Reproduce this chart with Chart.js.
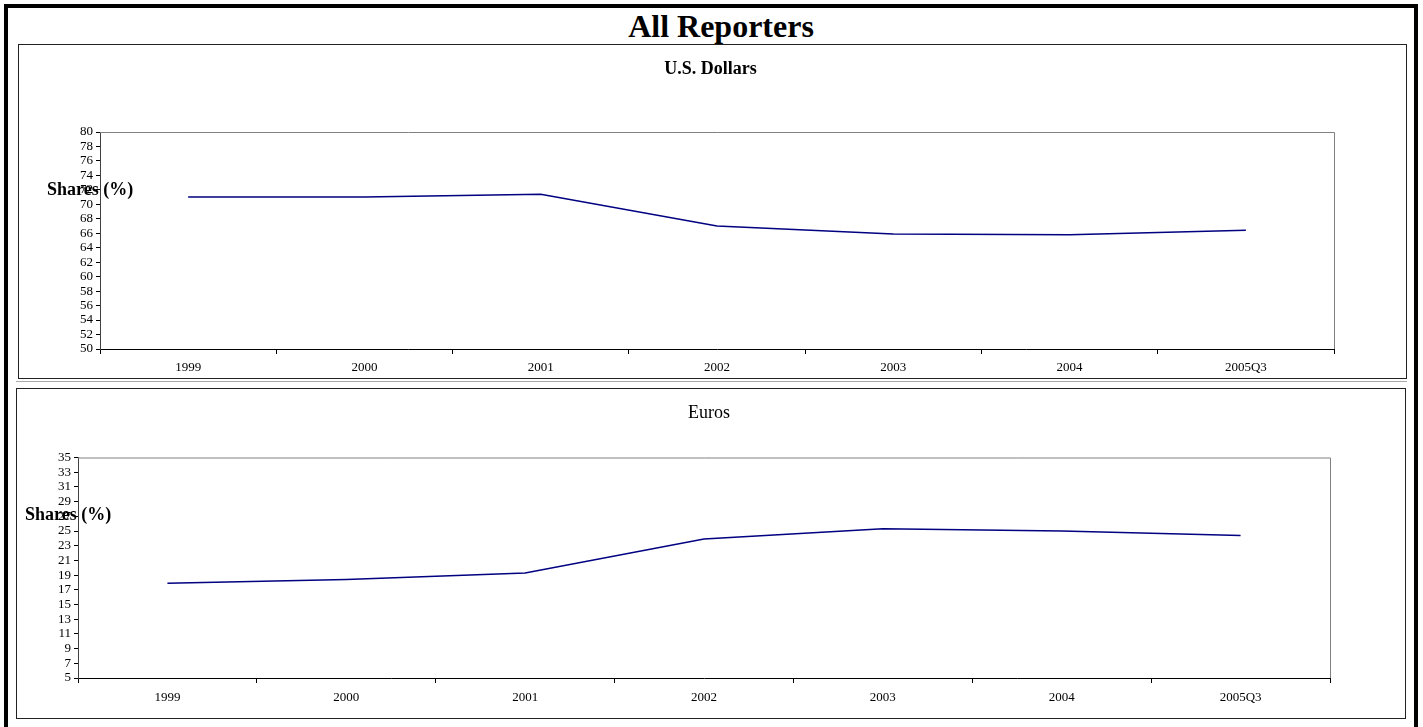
<!DOCTYPE html>
<html>
<head>
<meta charset="utf-8">
<title>All Reporters</title>
<script src="https://cdn.jsdelivr.net/npm/chart.js@4.4.0/dist/chart.umd.min.js"></script>
<style>
body { margin: 0; background: #fff; font-family: "Liberation Serif", "Times New Roman", serif; }
#frame { position: absolute; left: 4px; top: 4px; width: 1414px; height: 760px; border: 4px solid #000; border-bottom: none; box-sizing: border-box; }
#mainTitle { position: absolute; left: 0; top: 10px; width: 1442px; text-align: center; font-weight: bold; font-size: 32px; line-height: 32px; }
.panel { position: absolute; border: 1px solid #222; background: #fff; }
#panelUsd { left: 18px; top: 44px; width: 1387px; height: 333px; }
#panelEur { left: 16px; top: 388px; width: 1388px; height: 329px; }
#sep { position: absolute; left: 16px; top: 381px; width: 1391px; height: 1px; background: #aaa; }
canvas { display: block; }
</style>
</head>
<body>
<div id="frame"></div>
<div id="mainTitle">All Reporters</div>
<div class="panel" id="panelUsd"><canvas id="usdChart" width="1387" height="333"></canvas></div>
<div id="sep"></div>
<div class="panel" id="panelEur"><canvas id="eurChart" width="1388" height="329"></canvas></div>

<script>
// categories on the x axis
let periods = ['1999', '2000', '2001', '2002', '2003', '2004', '2005Q3'];

// currency shares (%)
let usdShares = [71.0, 71.0, 71.4, 67.0, 65.9, 65.8, 66.4];
let eurShares = [17.9, 18.4, 19.3, 23.9, 25.3, 25.0, 24.4];

let axisLabel = 'Shares (%)';
let lineColor = '#000080';
let serif = '"Liberation Serif", "Times New Roman", serif';

// panel title centred on the whole panel, grey top/right plot border,
// and the horizontal axis label that sits over the tick labels
const panelDecor = {
    id: 'panelDecor',
    beforeDatasetsDraw(chart) {
        const ctx = chart.ctx;
        const a = chart.chartArea;
        ctx.save();
        ctx.strokeStyle = '#808080';
        ctx.lineWidth = 1;
        ctx.beginPath();
        ctx.moveTo(a.left, a.top + 0.5);
        ctx.lineTo(a.right + 0.5, a.top + 0.5);
        ctx.lineTo(a.right + 0.5, a.bottom);
        ctx.stroke();
        ctx.restore();
    },
    afterDraw(chart, args, opts) {
        const ctx = chart.ctx;
        const a = chart.chartArea;
        ctx.save();
        ctx.fillStyle = '#000';
        ctx.textBaseline = 'middle';

        ctx.font = (opts.bold ? 'bold ' : '') + '18px ' + serif;
        ctx.textAlign = 'center';
        ctx.fillText(opts.title, chart.width / 2 - 2, 24);

        ctx.font = 'bold 18px ' + serif;
        ctx.textAlign = 'left';
        ctx.fillText(opts.label, a.left - 53, a.top + 58);
        ctx.restore();
    }
};

function makeChart(id, title, bold, values, yMin, yMax, lay) {
    return new Chart(document.getElementById(id), {
        type: 'line',
        data: {
            labels: periods,
            datasets: [{
                data: values,
                borderColor: lineColor,
                borderWidth: 1.5,
                pointRadius: 0,
                tension: 0,
                fill: false
            }]
        },
        options: {
            responsive: false,
            animation: false,
            events: [],
            layout: { padding: { left: 0, top: lay.top, right: lay.right, bottom: 0 } },
            plugins: {
                legend: { display: false },
                tooltip: { enabled: false },
                title: { display: false },
                panelDecor: { title: title, bold: bold, label: axisLabel }
            },
            scales: {
                x: {
                    offset: true,
                    afterFit: function (scale) { scale.height = lay.xHeight; },
                    border: { display: true, color: '#000', width: 1 },
                    grid: { offset: true, drawOnChartArea: false, color: '#000', tickLength: 5 },
                    ticks: { color: '#000', font: { family: serif, size: 13 }, padding: lay.xPad, maxRotation: 0, autoSkip: false }
                },
                y: {
                    min: yMin,
                    max: yMax,
                    afterFit: function (scale) { scale.width = lay.yWidth; },
                    border: { display: true, color: '#404040', width: 1 },
                    grid: { drawOnChartArea: false, color: '#000', tickLength: 4 },
                    ticks: { stepSize: 2, autoSkip: false, color: '#000', font: { family: serif, size: 13, lineHeight: 1 }, padding: 3 }
                }
            }
        },
        plugins: [panelDecor]
    });
}

let usdChart = makeChart('usdChart', 'U.S. Dollars', true, usdShares, 50, 80,
    { top: 87, right: 72, yWidth: 81, xHeight: 29, xPad: 6 });
let eurChart = makeChart('eurChart', 'Euros', false, eurShares, 5, 35,
    { top: 68.5, right: 75, yWidth: 61, xHeight: 40, xPad: 7 });
</script>
</body>
</html>
